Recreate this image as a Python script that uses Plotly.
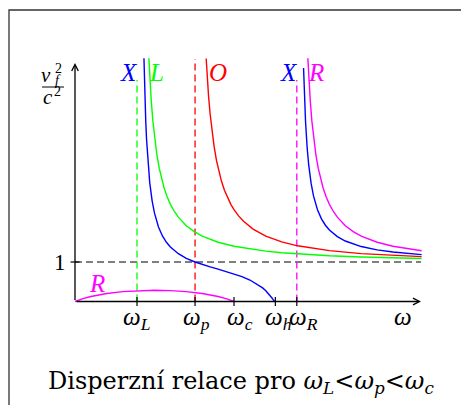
import plotly.graph_objects as go

W, H = 461, 405
X0_PX, Y0_PX = 75.0, 301.5   # pixel position of the origin
SX, SY = 159.0, 39.5         # pixels per unit


def xd(px):
    return (px - X0_PX) / SX


def yd(py):
    return (Y0_PX - py) / SY


# ---------------- data ----------------
omega_L, omega_p, omega_c, omega_h, omega_R = 0.39, 0.755, 1.0, 1.26, 1.395
tick_values = [omega_L, omega_p, omega_c, omega_h, omega_R]
tick_labels = ["<i>ω<sub>L</sub></i>", "<i>ω<sub>p</sub></i>", "<i>ω<sub>c</sub></i>",
               "<i>ω<sub>h</sub></i>", "<i>ω<sub>R</sub></i>"]

# L mode (green)
L_w = [0.4645, 0.47, 0.48, 0.49, 0.50, 0.515, 0.53, 0.545, 0.56, 0.58, 0.60, 0.625, 0.65,
       0.70, 0.75, 0.80, 0.90, 1.0, 1.1, 1.2, 1.3, 1.4, 1.6, 1.8, 2.0, 2.18]
L_v = [6.16, 5.71, 5.06, 4.56, 4.17, 3.71, 3.37, 3.095, 2.88, 2.646, 2.46, 2.279, 2.135,
       1.919, 1.768, 1.655, 1.50, 1.399, 1.328, 1.275, 1.235, 1.204, 1.159, 1.128, 1.105, 1.09]

# O mode (red)
O_w = [0.825, 0.83, 0.84, 0.85, 0.86, 0.875, 0.89, 0.905, 0.92, 0.94, 0.96, 0.98, 1.0, 1.03,
       1.06, 1.12, 1.2, 1.3, 1.4, 1.5, 1.6, 1.8, 2.0, 2.18]
O_v = [6.15, 5.80, 5.20, 4.74, 4.36, 3.92, 3.566, 3.29, 3.062, 2.817, 2.621, 2.46, 2.326, 2.161,
       2.03, 1.833, 1.655, 1.509, 1.41, 1.339, 1.287, 1.213, 1.166, 1.136]

# R mode, upper branch (magenta)
R_w = [1.4645, 1.47, 1.48, 1.49, 1.50, 1.515, 1.53, 1.545, 1.56, 1.58, 1.60, 1.625, 1.65,
       1.70, 1.75, 1.80, 1.90, 2.0, 2.1, 2.18]
R_v = [6.16, 5.71, 5.06, 4.56, 4.17, 3.71, 3.37, 3.095, 2.88, 2.646, 2.46, 2.279, 2.135,
       1.919, 1.768, 1.655, 1.50, 1.399, 1.328, 1.285]

# R mode, lower branch (magenta)
Rlow_w = [0.0, 0.02, 0.05, 0.1, 0.15, 0.2, 0.3, 0.4, 0.5, 0.6, 0.7, 0.8, 0.85, 0.9, 0.95, 0.98, 1.0]
Rlow_v = [0.0, 0.031, 0.072, 0.127, 0.170, 0.204, 0.250, 0.275, 0.284, 0.275, 0.250, 0.204,
          0.170, 0.127, 0.072, 0.031, 0.0]

# X mode, lower branch (blue)
Xlow_w = [0.4337, 0.437, 0.44, 0.445, 0.45, 0.46, 0.47, 0.485, 0.50, 0.525, 0.55, 0.575, 0.60,
          0.65, 0.70, 0.755, 0.80, 0.85, 0.90, 0.95, 1.0, 1.05, 1.1, 1.15, 1.18, 1.2, 1.215,
          1.23, 1.24, 1.245, 1.25, 1.256]
Xlow_v = [6.16, 5.57, 5.13, 4.554, 4.107, 3.457, 3.009, 2.55, 2.236, 1.888, 1.66, 1.499, 1.379,
          1.21, 1.094, 1.0, 0.937, 0.876, 0.818, 0.761, 0.699, 0.629, 0.544, 0.433, 0.345, 0.274,
          0.211, 0.1385, 0.083, 0.0526, 0.0203, 0.0]

# X mode, upper branch (blue)
Xup_w = [1.4375, 1.44, 1.45, 1.46, 1.47, 1.485, 1.50, 1.525, 1.55, 1.575, 1.60, 1.65, 1.70,
         1.80, 1.90, 2.0, 2.1, 2.18]
Xup_v = [5.91, 5.58, 4.549, 3.90, 3.451, 2.989, 2.673, 2.323, 2.093, 1.931, 1.81, 1.642, 1.531,
         1.391, 1.308, 1.252, 1.212, 1.187]

one_level = 1.0
# ----------------------------------------------------------------

BLUE, GREEN, RED, MAG = "#0000ff", "#00ff00", "#ff0000", "#ff00ff"
LW = 1.4
DASH = "7px,4px"
FONT = "Liberation Serif"
TITLE_FONT = "DejaVu Serif"

fig = go.Figure()


def curve(xs, ys, color, width=LW, dash=None):
    fig.add_trace(go.Scatter(x=xs, y=ys, mode="lines", hoverinfo="skip", showlegend=False,
                             line=dict(color=color, width=width, dash=dash)))


# dashed guide lines
x_end = xd(421)
curve([0, x_end], [one_level, one_level], "#000000", 1.2, DASH)
curve([omega_L, omega_L], [0, yd(80)], GREEN, 1.3, DASH)
curve([omega_p, omega_p], [0, yd(59)], RED, 1.3, DASH)
curve([omega_R, omega_R], [0, yd(80)], MAG, 1.3, DASH)

# curves
curve(L_w, L_v, GREEN)
curve(O_w, O_v, RED)
curve(R_w, R_v, MAG)
curve(Rlow_w, Rlow_v, MAG)
curve(Xlow_w, Xlow_v, BLUE)
curve(Xup_w, Xup_v, BLUE)

# tick marks
tx, ty = [], []
for t in tick_values:
    tx += [t, t, None]
    ty += [yd(Y0_PX + 4.5), yd(Y0_PX - 4.5), None]
tx += [xd(X0_PX - 4.5), xd(X0_PX + 4.5), None]
ty += [one_level, one_level, None]
curve(tx, ty, "#000000", 1.2)

annotations = []

# axes with arrows
annotations.append(dict(x=xd(421), y=0, ax=0, ay=0, xref="x", yref="y", axref="x", ayref="y",
                        text="", showarrow=True, arrowhead=5, arrowsize=1.0, arrowwidth=1.3,
                        arrowcolor="#000000", standoff=0))
annotations.append(dict(x=0, y=yd(63), ax=0, ay=0, xref="x", yref="y", axref="x", ayref="y",
                        text="", showarrow=True, arrowhead=5, arrowsize=1.0, arrowwidth=1.3,
                        arrowcolor="#000000", standoff=0))


def label(px, py, text, size, color="#000000", xanchor="center", yanchor="middle"):
    annotations.append(dict(x=xd(px), y=yd(py), xref="x", yref="y", text=text, showarrow=False,
                            xanchor=xanchor, yanchor=yanchor,
                            font=dict(family=FONT, size=size, color=color)))


# tick labels (pixel left edge of each label)
tick_left_px = [121, 181, 225, 263, 287]
for lp, txt in zip(tick_left_px, tick_labels):
    label(lp, 318, txt, 25, xanchor="left")
label(403, 316, "<i>ω</i>", 25)
label(60, 262, "1", 23)

# curve labels
label(129, 72, "<i>X</i>", 25, BLUE)
label(156, 72, "<i>L</i>", 25, GREEN)
label(218, 72, "<i>O</i>", 25, RED)
label(289, 72, "<i>X</i>", 25, BLUE)
label(316, 72, "<i>R</i>", 25, MAG)
label(97, 283, "<i>R</i>", 25, MAG)

# y axis label: v_f^2 / c^2
label(46, 75, "<i>v</i>", 21)
label(58, 68, "2", 14)
label(58, 80, "<i>f</i>", 14)
label(48, 97, "<i>c</i>", 21)
label(57, 91, "2", 14)

# caption
annotations.append(dict(x=241 / W, y=1 - 382 / H, xref="paper", yref="paper", showarrow=False,
                        text="Disperzní relace pro <i>ω<sub>L</sub></i>&lt;<i>ω<sub>p</sub></i>&lt;<i>ω<sub>c</sub></i>",
                        font=dict(family=TITLE_FONT, size=24, color="#000000"),
                        xanchor="center", yanchor="middle"))

shapes = [
    # frame
    dict(type="rect", xref="paper", yref="paper", x0=9 / W, x1=1.1, y0=-0.1, y1=1 - 10 / H,
         line=dict(color="#333333", width=1.3)),
    # fraction bar
    dict(type="line", xref="x", yref="y", x0=xd(42), x1=xd(64), y0=yd(87), y1=yd(87),
         line=dict(color="#000000", width=1)),
]

fig.update_layout(
    width=W, height=H, margin=dict(l=0, r=0, t=0, b=0),
    paper_bgcolor="white", plot_bgcolor="white",
    xaxis=dict(range=[xd(0), xd(W)], visible=False, fixedrange=True),
    yaxis=dict(range=[yd(H), yd(0)], visible=False, fixedrange=True),
    annotations=annotations, shapes=shapes, showlegend=False,
)

fig.write_html("out.html", config={"displayModeBar": False},
               post_script="document.body.style.margin='0';")
